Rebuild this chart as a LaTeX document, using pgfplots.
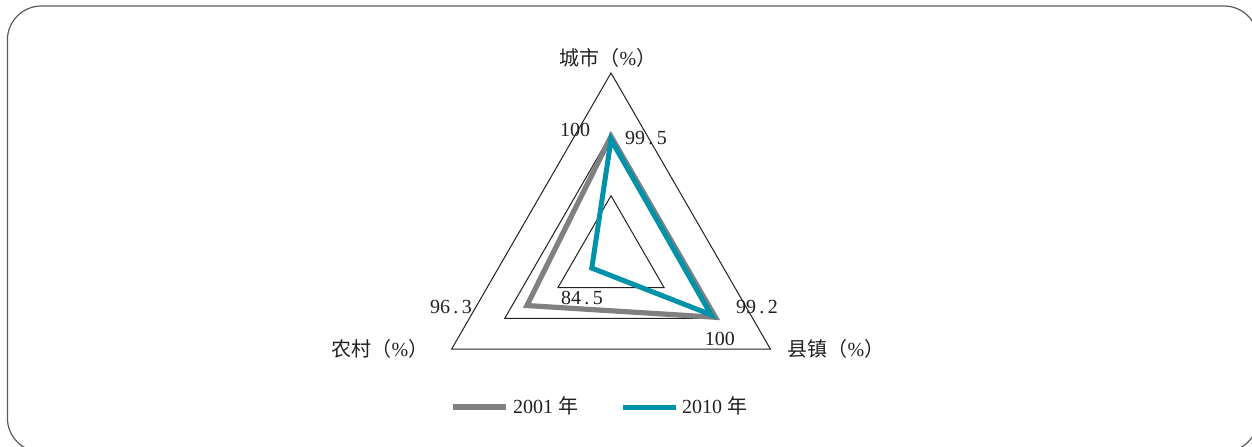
\documentclass[border=0pt]{standalone}
\usepackage{fontspec}
\setmainfont{Liberation Serif}
\newfontfamily\cjk{Noto Sans CJK SC}
\usepackage{pgfplots}
\usepackage{pgfplotstable}
\pgfplotsset{compat=1.18}

\definecolor{gridc}{RGB}{35,31,32}
\definecolor{grayline}{RGB}{128,128,131}
\definecolor{tealline}{RGB}{0,146,168}
\definecolor{framec}{RGB}{90,90,90}

% angle (deg), value 2001, value 2010 -- first two rows repeated to close the polygon
\pgfplotstableread{
angle v2001 v2010
90    100   99.5
-30   100   99.2
210   96.3  84.5
90    100   99.5
-30   100   99.2
}\radardata

% grid triangles, radius as share of the outer one
\pgfplotstableread{
angle r1     r2     r3
90    0.3333 0.6667 1
-30   0.3333 0.6667 1
210   0.3333 0.6667 1
90    0.3333 0.6667 1
-30   0.3333 0.6667 1
}\radargrid

\begin{document}
\begin{tikzpicture}
\path[use as bounding box] (0,0) rectangle (626pt,223pt);
\begin{scope}
\clip (0,0) rectangle (626pt,223pt);
\draw[rounded corners=17pt, line width=0.6pt, draw=framec] (3.7pt,-3pt) rectangle (629pt,220pt);
\end{scope}
\begin{axis}[
    at={(0,0)}, anchor=south west,
    scale only axis, hide axis,
    x=92pt, y=92pt,
    xmin=-3.3207, xmax=3.4837, ymin=-1.0272, ymax=1.3967,
    clip=false,
    font=\fontsize{10}{12}\selectfont,
    legend style={at={(0.48,0.0874)}, anchor=center, draw=none, fill=none,
        legend columns=2, inner sep=0pt, text=gridc,
        font=\fontsize{10}{12}\selectfont,
        /tikz/every even column/.append style={column sep=19pt}},
    legend image code/.code={\draw[#1] (0pt,0pt) -- (26.5pt,0pt);},
]
\foreach \c in {r1,r2,r3}{
  \addplot[forget plot, gridc, line width=0.5pt] table[
    x expr={\thisrow{\c}*cos(\thisrow{angle})},
    y expr={\thisrow{\c}*sin(\thisrow{angle})}] {\radargrid};
}
\addplot[grayline, line width=2.6pt] table[
    x expr={(\thisrow{v2001}-81)/29*cos(\thisrow{angle})},
    y expr={(\thisrow{v2001}-81)/29*sin(\thisrow{angle})}] {\radardata};
\addlegendentry{2001 {\cjk 年}}
\addplot[tealline, line width=2.5pt] table[
    x expr={(\thisrow{v2010}-81)/29*cos(\thisrow{angle})},
    y expr={(\thisrow{v2010}-81)/29*sin(\thisrow{angle})}] {\radardata};
\addlegendentry{2010 {\cjk 年}}

\node[text=gridc] at (axis cs:-0.016,1.0815) {{\cjk 城市（}\%{\cjk ）}};
\node[text=gridc] at (axis cs:1.223,-0.5) {{\cjk 县镇（}\%{\cjk ）}};
\node[text=gridc] at (axis cs:-1.2554,-0.5) {{\cjk 农村（}\%{\cjk ）}};
\node[text=gridc] at (axis cs:-0.1957,0.690) {100};
\node[text=gridc] at (axis cs:0.190,0.647) {99\,.\,5};
\node[text=gridc] at (axis cs:-0.870,-0.272) {96\,.\,3};
\node[text=gridc] at (axis cs:-0.158,-0.223) {84\,.\,5};
\node[text=gridc] at (axis cs:0.793,-0.272) {99\,.\,2};
\node[text=gridc] at (axis cs:0.592,-0.446) {100};
\end{axis}
\end{tikzpicture}
\end{document}
